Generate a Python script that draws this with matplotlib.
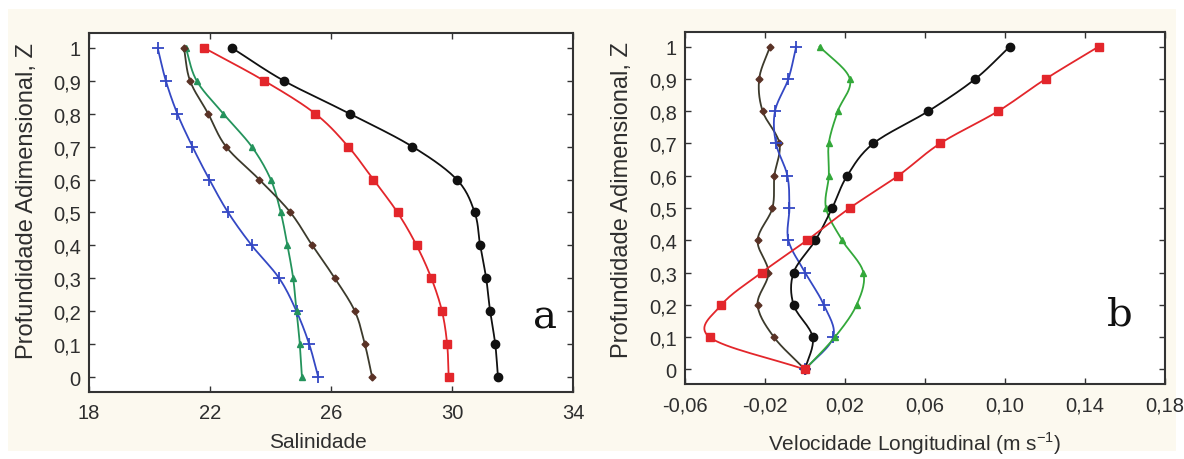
import numpy as np
import matplotlib
matplotlib.use("Agg")
import matplotlib.pyplot as plt
from matplotlib.patches import Rectangle

# ---------------- data ----------------
Z = [0.0, 0.1, 0.2, 0.3, 0.4, 0.5, 0.6, 0.7, 0.8, 0.9, 1.0]

# Panel a: salinity
sal_blue = [25.58, 25.28, 24.86, 24.29, 23.38, 22.60, 21.98, 21.42, 20.92, 20.54, 20.27]
sal_green = [25.04, 24.97, 24.86, 24.75, 24.56, 24.34, 24.01, 23.38, 22.44, 21.56, 21.20]
sal_brown = [27.36, 27.12, 26.79, 26.13, 25.38, 24.66, 23.63, 22.53, 21.94, 21.34, 21.14]
sal_red = [29.89, 29.84, 29.67, 29.32, 28.83, 28.20, 27.40, 26.57, 25.48, 23.79, 21.80]
sal_black = [31.52, 31.43, 31.26, 31.13, 30.93, 30.75, 30.16, 28.69, 26.62, 24.44, 22.72]

# Panel b: longitudinal velocity
vel_brown = [0.0, -0.0155, -0.0237, -0.0183, -0.0237, -0.0163, -0.0153, -0.0128, -0.0212, -0.0229, -0.0175]
vel_blue = [0.0, 0.0141, 0.0094, 0.0001, -0.0083, -0.0078, -0.0088, -0.0145, -0.0150, -0.0083, -0.0044]
vel_green = [0.0, 0.0149, 0.0258, 0.0292, 0.0186, 0.0105, 0.0119, 0.0119, 0.0164, 0.0224, 0.0073]
vel_black = [0.0, 0.0038, -0.0057, -0.0057, 0.0052, 0.0136, 0.0211, 0.0342, 0.0617, 0.0852, 0.1024]
vel_red = [0.0, -0.0477, -0.0418, -0.0217, 0.0010, 0.0224, 0.0466, 0.0676, 0.0966, 0.1204, 0.1469]

sal_ticks = [18, 22, 26, 30, 34]
vel_ticks = [-0.06, -0.02, 0.02, 0.06, 0.10, 0.14, 0.18]
z_ticks = [0, 0.1, 0.2, 0.3, 0.4, 0.5, 0.6, 0.7, 0.8, 0.9, 1.0]

# ---------------- style ----------------
plt.rcParams['font.family'] = ['Liberation Sans', 'DejaVu Sans']
BG = '#fcf9ef'
TXT = '#2e2e2e'
C_BLUE = '#3448c4'
C_GREEN_A = '#24935c'
C_GREEN_B = '#33a83a'
C_BROWN_LINE = '#3c3a2c'
C_BROWN_MK = '#5a3226'
C_RED = '#e3262b'
C_BLACK = '#111111'


def smooth(x, z, n=16):
    """Catmull-Rom curve through the data points (drawing style only)."""
    x = np.asarray(x, float)
    z = np.asarray(z, float)
    px = np.concatenate([[2 * x[0] - x[1]], x, [2 * x[-1] - x[-2]]])
    pz = np.concatenate([[2 * z[0] - z[1]], z, [2 * z[-1] - z[-2]]])
    xs, zs = [], []
    t = np.linspace(0, 1, n, endpoint=False)
    for i in range(1, len(px) - 2):
        for P, out in ((px, xs), (pz, zs)):
            p0, p1, p2, p3 = P[i - 1], P[i], P[i + 1], P[i + 2]
            out.extend(0.5 * ((2 * p1) + (-p0 + p2) * t
                              + (2 * p0 - 5 * p1 + 4 * p2 - p3) * t ** 2
                              + (-p0 + 3 * p1 - 3 * p2 + p3) * t ** 3))
    xs.append(x[-1]); zs.append(z[-1])
    return np.array(xs), np.array(zs)


def draw(ax, xv, color, marker, ms, mcolor=None, lcolor=None, mew=1.0):
    sx, sz = smooth(xv, Z)
    ax.plot(sx, sz, color=lcolor or color, lw=1.3, zorder=2)
    ax.plot(xv, Z, ls='none', marker=marker, ms=ms, color=mcolor or color,
            mec=mcolor or color, mew=mew, zorder=3)


def fmt(v):
    s = ('%.2f' % v) if abs(v) < 1 and v != 0 else ('%g' % v)
    return s.replace('.', ',')


def zfmt(v):
    if v == 0:
        return '0'
    if v == 1:
        return '1'
    return ('%.1f' % v).replace('.', ',')


def style_axes(ax):
    for sp in ax.spines.values():
        sp.set_color('#333333')
        sp.set_linewidth(1.5)
    ax.tick_params(direction='in', length=4, width=1.0, color='#333333',
                   top=True, right=True, labelsize=14.5, labelcolor=TXT)
    ax.tick_params(axis='y', pad=6)
    ax.tick_params(axis='x', pad=8)
    ax.set_yticks(z_ticks)
    ax.set_yticklabels([zfmt(v) for v in z_ticks])
    ax.set_ylim(-0.045, 1.045)
    ax.set_ylabel('Profundidade Adimensional, Z', fontsize=17, color=TXT)


fig = plt.figure(figsize=(11.84, 4.6), dpi=100, facecolor='white')
fig.patches.append(Rectangle((8 / 1184, 8 / 460), 1 - 16 / 1184, 1 - 18 / 460,
                             transform=fig.transFigure, facecolor=BG,
                             edgecolor='none', zorder=-10))

# ---------------- panel a ----------------
ax1 = fig.add_axes([89 / 1184, 1 - 393 / 460, 484 / 1184, 359 / 460])
ax1.set_facecolor('white')
draw(ax1, sal_blue, C_BLUE, '+', 8, mew=1.3)
draw(ax1, sal_green, C_GREEN_A, '^', 5)
draw(ax1, sal_brown, C_BROWN_LINE, 'D', 3.5, mcolor=C_BROWN_MK)
draw(ax1, sal_red, C_RED, 's', 6)
draw(ax1, sal_black, C_BLACK, 'o', 6)
ax1.set_xlim(18, 34)
ax1.set_xticks(sal_ticks)
ax1.set_xticklabels([fmt(v) for v in sal_ticks])
style_axes(ax1)
ax1.set_xlabel('Salinidade', fontsize=15, color=TXT)
ax1.xaxis.set_label_coords(0.473, -0.112)
ax1.yaxis.set_label_coords(-0.106, 0.535)
ax1.text(0.942, 0.21, 'a', transform=ax1.transAxes, fontsize=29,
         family='DejaVu Serif', ha='center', va='center', color='#111111')

# ---------------- panel b ----------------
ax2 = fig.add_axes([685 / 1184, 1 - 385 / 460, 480 / 1184, 352 / 460])
ax2.set_facecolor('white')
draw(ax2, vel_brown, C_BROWN_LINE, 'D', 3.5, mcolor=C_BROWN_MK)
draw(ax2, vel_blue, C_BLUE, '+', 8, mew=1.3)
draw(ax2, vel_green, C_GREEN_B, '^', 5)
draw(ax2, vel_black, C_BLACK, 'o', 6)
draw(ax2, vel_red, C_RED, 's', 6)
ax2.set_xlim(-0.06, 0.18)
ax2.set_xticks(vel_ticks)
ax2.set_xticklabels([fmt(v) for v in vel_ticks])
style_axes(ax2)
ax2.set_xlabel('Velocidade Longitudinal (m s$^{\\mathregular{-1}}$)', fontsize=15, color=TXT)
ax2.xaxis.set_label_coords(0.479, -0.128)
ax2.yaxis.set_label_coords(-0.108, 0.526)
ax2.text(0.906, 0.20, 'b', transform=ax2.transAxes, fontsize=29,
         family='DejaVu Serif', ha='center', va='center', color='#111111')

fig.savefig('out.png', dpi=100, facecolor='white')
